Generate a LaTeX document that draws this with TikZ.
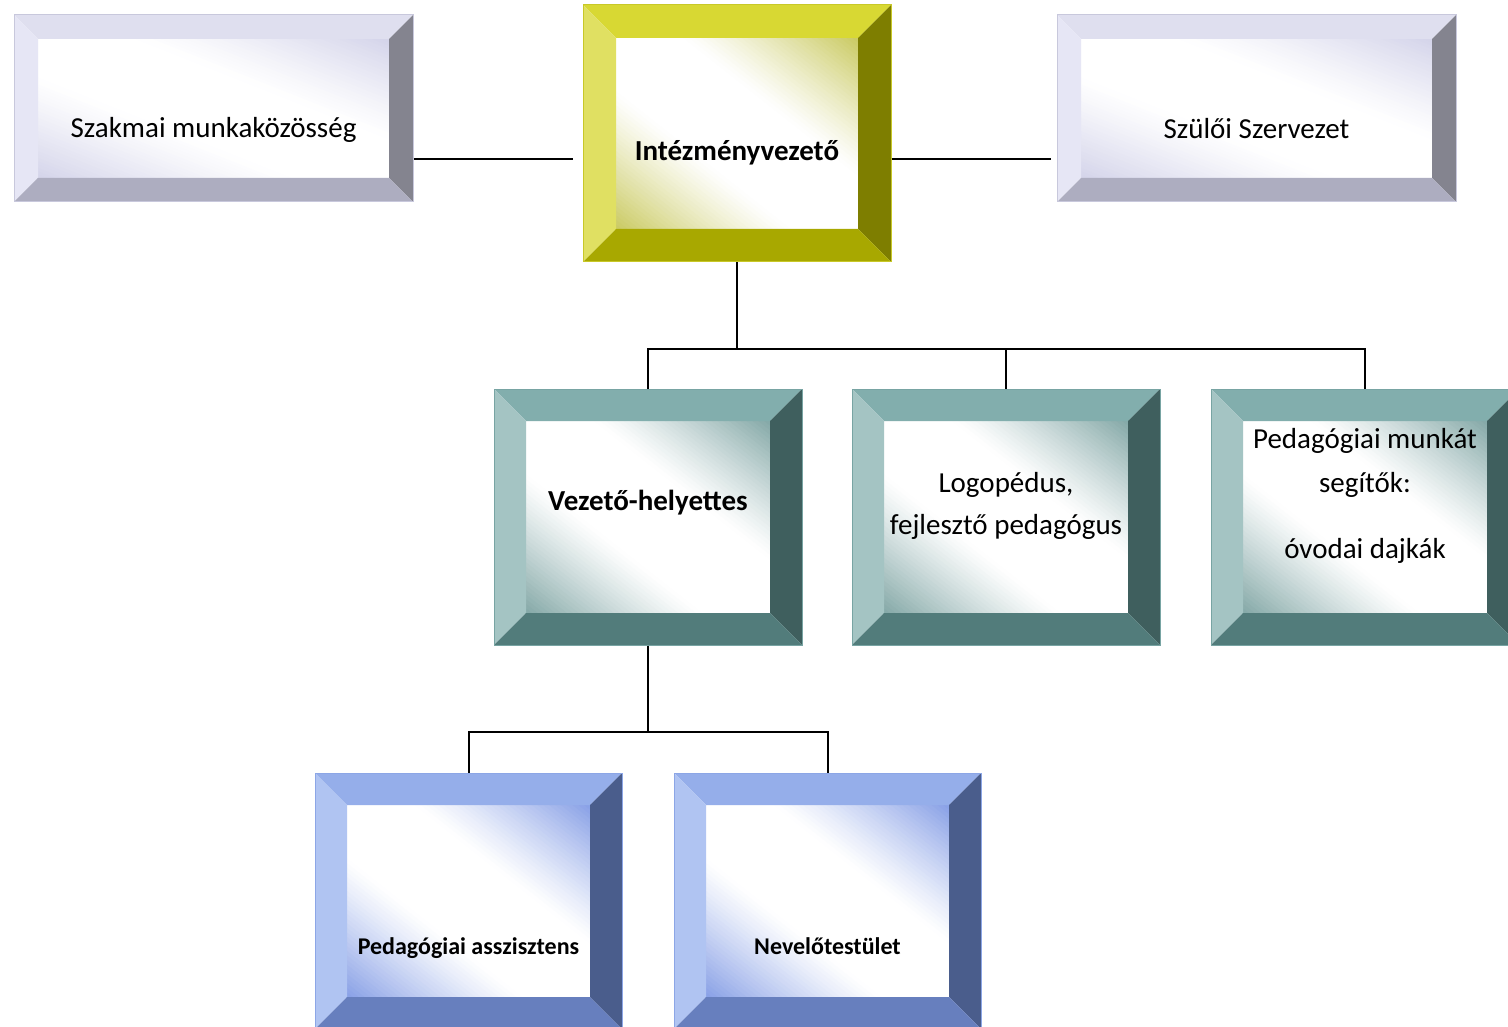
\documentclass[tikz,border=0pt]{standalone}
\usepackage{fontspec}
\setmainfont{Carlito}
\usetikzlibrary{calc}
% palettes
\definecolor{Ltop}{HTML}{DFDFEF}\definecolor{Lleft}{HTML}{E6E6F5}\definecolor{Lright}{HTML}{84848F}\definecolor{Lbot}{HTML}{ADADC0}\definecolor{Ltint}{HTML}{D4D4EA}\definecolor{Ledge}{HTML}{C8C8DC}
\definecolor{Ytop}{HTML}{D8D833}\definecolor{Yleft}{HTML}{E0E062}\definecolor{Yright}{HTML}{7E7E00}\definecolor{Ybot}{HTML}{A8A800}\definecolor{Ytint}{HTML}{CACA62}\definecolor{Yedge}{HTML}{C8C828}
\definecolor{Ttop}{HTML}{82AEAD}\definecolor{Tleft}{HTML}{A4C4C3}\definecolor{Tright}{HTML}{3F5F5E}\definecolor{Tbot}{HTML}{527C7B}\definecolor{Ttint}{HTML}{84A8A7}\definecolor{Tedge}{HTML}{78A4A3}
\definecolor{Btop}{HTML}{95AEEA}\definecolor{Bleft}{HTML}{B0C4F2}\definecolor{Bright}{HTML}{4A5D8C}\definecolor{Bbot}{HTML}{677FBE}\definecolor{Btint}{HTML}{88A0E6}\definecolor{Bedge}{HTML}{8CA6E6}
% #1 name, #2 x1, #3 y1, #4 x2, #5 y2 (pixels, y downward), #6 bevel, #7 palette letter
\newcommand\bevelbox[7]{%
  \begin{scope}
    \clip (#2+#6-1,-#3-#6+1) rectangle (#4-#6+1,-#5+#6-1);
    \fill[white] (#2+#6-1,-#3-#6+1) rectangle (#4-#6+1,-#5+#6-1);
    \begin{scope}[shift={({(#2+#4)/2},{-(#3+#5)/2})}, xscale={(#4-#2-2*#6)/2}, yscale={(#5-#3-2*#6)/2}]
      \foreach \k in {0,...,29}{%
        \pgfmathsetmacro\sa{0.28+0.72*\k/30}%
        \pgfmathsetmacro\sb{0.28+0.72*(\k+1)/30+0.012+(\k==29)*0.6}%
        \pgfmathsetmacro\pc{100*((\k+0.5)/30)^1.15}%
        \fill[#7tint!\pc!white] (2*\sa+3,-3) -- (2*\sb+3,-3) -- (2*\sb-3,3) -- (2*\sa-3,3) -- cycle;
        \fill[#7tint!\pc!white] (-2*\sa+3,-3) -- (-2*\sb+3,-3) -- (-2*\sb-3,3) -- (-2*\sa-3,3) -- cycle;
      }
    \end{scope}
  \end{scope}
  \fill[#7top]   (#2,-#3) -- (#4,-#3) -- (#4-#6,-#3-#6) -- (#2+#6,-#3-#6) -- cycle;
  \fill[#7left]  (#2,-#3) -- (#2+#6,-#3-#6) -- (#2+#6,-#5+#6) -- (#2,-#5) -- cycle;
  \fill[#7right] (#4,-#3) -- (#4,-#5) -- (#4-#6,-#5+#6) -- (#4-#6,-#3-#6) -- cycle;
  \fill[#7bot]   (#2,-#5) -- (#2+#6,-#5+#6) -- (#4-#6,-#5+#6) -- (#4,-#5) -- cycle;
  \node[draw=#7edge, line width=1pt, inner sep=0pt, minimum width={(#4-#2)*1pt}, minimum height={(#5-#3)*1pt}] (#1) at ({(#2+#4)/2},{-(#3+#5)/2}) {};
}
\tikzset{
  conn/.style={line width=2pt, black},
  txt/.style={font=\fontsize{29}{42}\selectfont, anchor=base, inner sep=0pt, align=center},
  btxt/.style={txt, font=\fontsize{29}{42}\selectfont\bfseries},
  stxt/.style={txt, font=\fontsize{24}{30}\selectfont\bfseries},
}
\begin{document}
\begin{tikzpicture}[x=1pt,y=1pt]
\useasboundingbox (0,0) rectangle (1508,-1027);
\clip (0,0) rectangle (1508,-1027);
\bevelbox{szak}{14}{15}{413}{202}{24}{L}
\bevelbox{intez}{583}{5}{891}{262}{33}{Y}
\bevelbox{szul}{1057}{15}{1456}{202}{24}{L}
\bevelbox{vez}{494}{389}{802}{645}{32}{T}
\bevelbox{logo}{852}{389}{1160}{645}{32}{T}
\bevelbox{peda}{1211}{389}{1519}{645}{32}{T}
\bevelbox{assz}{315}{773}{622}{1029}{32}{B}
\bevelbox{nev}{674}{773}{981}{1029}{32}{B}
% texts
\node[txt]  (tszak)  at (213.5,-138) {Szakmai munkaközösség};
\node[btxt] (tintez) at (737,-161) {Intézményvezető};
\node[txt]  (tszul)  at (1256.5,-139) {Szülői Szervezet};
\node[btxt] (tvez)   at (648,-510) {Vezető-helyettes};
\node[txt]  (tlogo1) at (1006,-492) {Logopédus,};
\node[txt]  (tlogo2) at (1006,-534) {fejlesztő pedagógus};
\node[txt]  (tped1)  at (1365,-448) {Pedagógiai munkát};
\node[txt]  (tped2)  at (1365,-492) {segítők:};
\node[txt]  (tped3)  at (1365,-558) {óvodai dajkák};
\node[stxt] (tassz)  at (468.5,-954) {Pedagógiai asszisztens};
\node[stxt] (tnev)   at (827.5,-954) {Nevelőtestület};
% connectors
\draw[conn] ([yshift=-50.5pt]szak.east) -- ([yshift=-25.5pt,xshift=-10pt]intez.west);
\draw[conn] ([yshift=-25.5pt]intez.east) -- ([yshift=-50.5pt,xshift=-6pt]szul.west);
\draw[conn] ([xshift=-0.5pt]intez.south) -- ++(0,-86) coordinate (j1);
\draw[conn] (vez.north) -- (vez.north |- j1) -- (peda.north |- j1) -- (peda.north);
\draw[conn] (logo.north) -- (logo.north |- j1);
\draw[conn] (vez.south) -- ++(0,-86) coordinate (j2);
\draw[conn] (assz.north) -- (assz.north |- j2) -- (nev.north |- j2) -- (nev.north);
\end{tikzpicture}
\end{document}
